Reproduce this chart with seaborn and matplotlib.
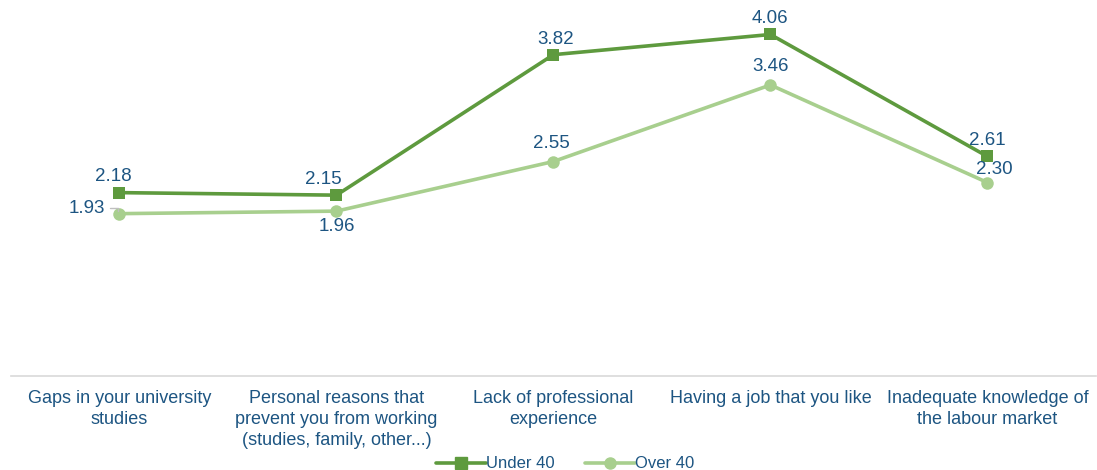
import matplotlib
matplotlib.use("Agg")
import matplotlib.pyplot as plt
import seaborn as sns
import pandas as pd

reasons = ["Gaps in your university\nstudies",
           "Personal reasons that\nprevent you from working\n(studies, family, other...)",
           "Lack of professional\nexperience",
           "Having a job that you like",
           "Inadequate knowledge of\nthe labour market"]
under40 = [2.18, 2.15, 3.82, 4.06, 2.61]
over40 = [1.93, 1.96, 2.55, 3.46, 2.30]

df = pd.DataFrame({
    "reason": reasons * 2,
    "score": under40 + over40,
    "group": ["Under 40"] * 5 + ["Over 40"] * 5,
})

sns.set_theme(style="white")
plt.rcParams['font.family'] = ['Liberation Sans', 'DejaVu Sans']

txt = "#1D5582"
palette = {"Under 40": "#5E9A3E", "Over 40": "#A8CF8E"}

fig = plt.figure(figsize=(10.97, 4.70), dpi=100)
ax = fig.add_axes([0.01, 0.2, 0.989, 0.8])
sns.lineplot(data=df, x="reason", y="score", hue="group", style="group",
             markers={"Under 40": "s", "Over 40": "o"}, dashes=False,
             palette=palette, linewidth=2.6, markersize=9, markeredgewidth=0,
             sort=False, ax=ax, legend=False)

ax.set_ylim(0, 4.47)
ax.set_xlim(-0.5, 4.5)
ax.set_xlabel("")
ax.set_ylabel("")
ax.set_yticks([])
for s in ["top", "right", "left"]:
    ax.spines[s].set_visible(False)
ax.spines["bottom"].set_color("#D9D9D9")
ax.spines["bottom"].set_linewidth(1.2)
ax.tick_params(axis="x", length=0, pad=10, labelsize=13, colors=txt)
for lab in ax.get_xticklabels():
    lab.set_linespacing(1.33)

# value labels (offsets in pixels)
u_off = [(-6, 16), (-13, 16), (2, 15), (0, 16), (0, 16)]
o_off = [(-33, 5), (0, -15), (-2, 18), (0, 18), (7, 13)]
for i, v in enumerate(under40):
    ax.annotate(f"{v:.2f}", (i, v), xytext=u_off[i], textcoords="offset pixels",
                ha="center", va="center", fontsize=13.5, color=txt)
for i, v in enumerate(over40):
    ax.annotate(f"{v:.2f}", (i, v), xytext=o_off[i], textcoords="offset pixels",
                ha="center", va="center", fontsize=13.5, color=txt)
ax.plot([-0.045, -0.005, -0.005], [2.0, 2.0, 1.96], color="#BFBFBF", lw=1)

handles = [plt.Line2D([], [], color=palette["Under 40"], marker="s", lw=2.6, markersize=8),
           plt.Line2D([], [], color=palette["Over 40"], marker="o", lw=2.6, markersize=8)]
fig.legend(handles, ["Under 40", "Over 40"], loc="lower center", ncol=2,
           bbox_to_anchor=(0.515, -0.035), frameon=False, fontsize=12,
           labelcolor=txt, handlelength=3.0, handletextpad=0.0, columnspacing=1.8)

fig.savefig("out.png", dpi=100)
